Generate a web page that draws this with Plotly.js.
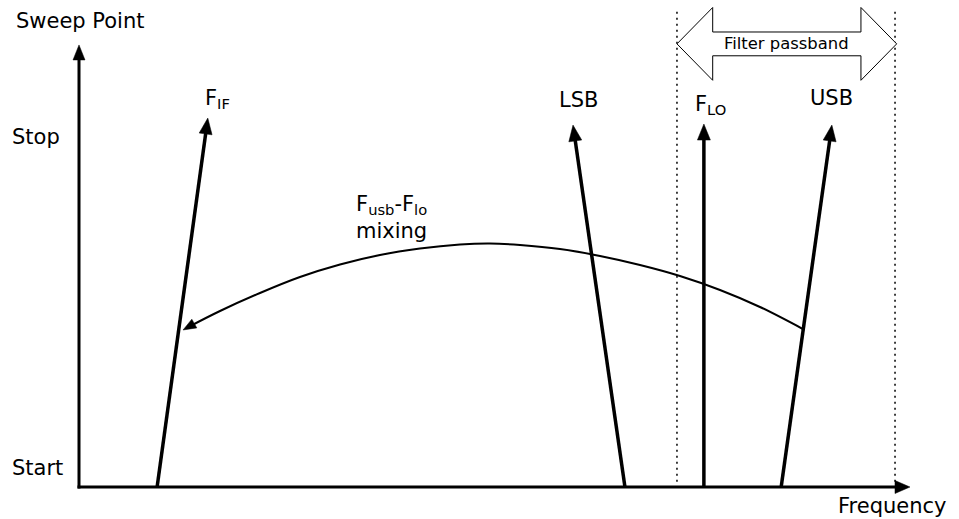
<!DOCTYPE html>
<html><head><meta charset="utf-8">
<script src="https://cdn.plot.ly/plotly-3.0.1.min.js"></script>
<style>html,body{margin:0;padding:0;background:#fff}#chart{width:959px;height:519px}</style>
</head><body><div id="chart"></div>
<script>
// ---- data (frequency / sweep-point units) ----
const signalNames = ['F<sub>IF</sub>', 'LSB', 'F<sub>LO</sub>', 'USB'];
const freqAtStart = [9.4, 65.7, 75.2, 84.5];
const freqAtTip = [15.5, 59.45, 75.2, 90.6];
const sweepAtTip = [105.4, 103.4, 103.7, 103.4];
const sweepTicks = [0, 100];
const sweepTickText = ['Start', 'Stop'];
const axisTipFreq = 100;
const axisTipSweep = 126.3;
const passband = [71.96, 98.2];
const passbandTop = 136.5;
const mixFreq = [87.12, 81.95, 77.14, 72.32, 67.51, 62.70, 57.88, 53.07, 49.46, 45.85, 41.03, 36.22, 31.41, 26.59, 21.78, 16.97, 12.52];
const mixSweep = [45.14, 51.43, 56.29, 60.29, 63.43, 66.0, 68.0, 69.14, 69.57, 69.29, 68.14, 66.29, 63.57, 60.0, 55.43, 50.29, 44.86];

// ---- styling / layout ----
const FONT = 'DejaVu Sans, Liberation Sans, Arial, sans-serif';
const FS = 21;
const W = 959, H = 519;
const labelShift = [[10, 19], [5, 25], [7, 19], [0, 27]];
const xRange = [-9.507, 105.90];
const yRange = [-9.143, 139.14];
const sx = W / (xRange[1] - xRange[0]);   // px per frequency unit
const sy = H / (yRange[1] - yRange[0]);   // px per sweep unit

// arrowhead helper: direction given in screen pixels (dxp right, dyp up)
function headPath(tx, ty, dxp, dyp, len, wid) {
  const m = Math.hypot(dxp, dyp), ux = dxp / m, uy = dyp / m;
  const nx = -uy, ny = ux;
  const bx = -ux * len, by = -uy * len;
  const p = (ox, oy) => `${tx + ox / sx},${ty + oy / sy}`;
  return `M${p(0, 0)} L${p(bx + nx * wid / 2, by + ny * wid / 2)} L${p(bx - nx * wid / 2, by - ny * wid / 2)} Z`;
}
function backoff(x0, y0, x1, y1, d) {
  const dxp = (x1 - x0) * sx, dyp = (y1 - y0) * sy, m = Math.hypot(dxp, dyp);
  return [x1 - dxp / m * d / sx, y1 - dyp / m * d / sy];
}

const traces = [];
const shapes = [];
const ann = [];
const lineTrace = (x, y, width, extra) => Object.assign({
  type: 'scatter', mode: 'lines', x: x, y: y, hoverinfo: 'skip',
  line: Object.assign({color: '#000', width: width}, extra || {})
});
const head = (path) => ({type: 'path', path: path, xref: 'x', yref: 'y',
  fillcolor: '#000', line: {color: '#000', width: 0.5}, layer: 'above'});

// dotted passband edges
passband.forEach(p => traces.push(lineTrace([p, p], [1.5, passbandTop], 1.5, {dash: '2px,4px'})));

// axes
{
  const e1 = backoff(0, 0, 0, axisTipSweep, 8);
  traces.push(lineTrace([0, 0], [-0.43, e1[1]], 3));
  shapes.push(head(headPath(0, axisTipSweep, 0, 1, 15, 12)));
  const e2 = backoff(0, 0, axisTipFreq, 0, 8);
  traces.push(lineTrace([-0.18, e2[0]], [0, 0], 3));
  shapes.push(head(headPath(axisTipFreq, 0, 1, 0, 15, 13)));
}

// signal lines with arrowheads and labels
for (let i = 0; i < signalNames.length; i++) {
  const x0 = freqAtStart[i], y0 = 0, x1 = freqAtTip[i], y1 = sweepAtTip[i];
  const e = backoff(x0, y0, x1, y1, 9);
  traces.push(lineTrace([x0, e[0]], [y0, e[1]], 3.5));
  shapes.push(head(headPath(x1, y1, (x1 - x0) * sx, (y1 - y0) * sy, 16, 13)));
  ann.push({x: x1, y: y1, xref: 'x', yref: 'y', text: signalNames[i],
    showarrow: false, xanchor: 'center', yanchor: 'middle',
    xshift: labelShift[i][0], yshift: labelShift[i][1], font: {family: FONT, size: FS, color: '#000'}});
}

// mixing curve with arrowhead
{
  const n = mixFreq.length - 1;
  const cx = mixFreq.slice(), cyv = mixSweep.slice();
  // end the stroke slightly inside the arrowhead
  cx[n] = mixFreq[n] + 5 * 0.87 / sx; cyv[n] = mixSweep[n] + 5 * 0.49 / sy;
  traces.push(lineTrace(cx, cyv, 2, {shape: 'spline', smoothing: 1}));
  shapes.push(head(headPath(mixFreq[n], mixSweep[n], -14, -8, 13, 10)));
}
// mixing label
ann.push({x: 37.55, y: 76.9, xref: 'x', yref: 'y', text: 'F<sub>usb</sub>-F<sub>lo</sub><br>mixing', showarrow: false,
  xanchor: 'center', yanchor: 'middle', align: 'center', font: {family: FONT, size: FS, color: '#000'}});
// axis labels
ann.push({x: 14 / W, y: 1 - 21 / H, xref: 'paper', yref: 'paper', text: 'Sweep Point', showarrow: false,
  xanchor: 'left', yanchor: 'middle', font: {family: FONT, size: FS, color: '#000'}});
ann.push({x: 836 / W, y: 1 - 506 / H, xref: 'paper', yref: 'paper', text: 'Frequency', showarrow: false,
  xanchor: 'left', yanchor: 'middle', font: {family: FONT, size: FS, color: '#000'}});
const tickShift = [19.5, 0];
sweepTicks.forEach((v, i) => ann.push({x: 10 / W, y: v, xref: 'paper', yref: 'y', text: sweepTickText[i],
  showarrow: false, xanchor: 'left', yanchor: 'middle', yshift: tickShift[i],
  font: {family: FONT, size: FS, color: '#000'}}));

// filter passband block arrow
const cy = 126.6, shaftH = 3.4, headH = 10.4, headL = 4.3;
const L = passband[0], R = passband[1] + 0.2;
const path = `M${L},${cy} L${L + headL},${cy + headH} L${L + headL},${cy + shaftH} L${R - headL},${cy + shaftH} ` +
  `L${R - headL},${cy + headH} L${R},${cy} L${R - headL},${cy - headH} L${R - headL},${cy - shaftH} ` +
  `L${L + headL},${cy - shaftH} L${L + headL},${cy - headH} Z`;
shapes.push({type: 'path', path: path, xref: 'x', yref: 'y', line: {color: '#000', width: 1}, fillcolor: '#fff', layer: 'above'});
ann.push({x: (L + R) / 2, y: cy, xref: 'x', yref: 'y', text: 'Filter passband', showarrow: false,
  xanchor: 'center', yanchor: 'middle', font: {family: FONT, size: 16.4, color: '#000'}});

const layout = {
  width: W, height: H, margin: {l: 0, r: 0, t: 0, b: 0},
  paper_bgcolor: '#fff', plot_bgcolor: '#fff', showlegend: false,
  xaxis: {range: xRange, visible: false, fixedrange: true},
  yaxis: {range: yRange, visible: false, fixedrange: true},
  shapes: shapes,
  annotations: ann
};
Plotly.newPlot('chart', traces, layout, {staticPlot: true, displayModeBar: false});
</script></body></html>
